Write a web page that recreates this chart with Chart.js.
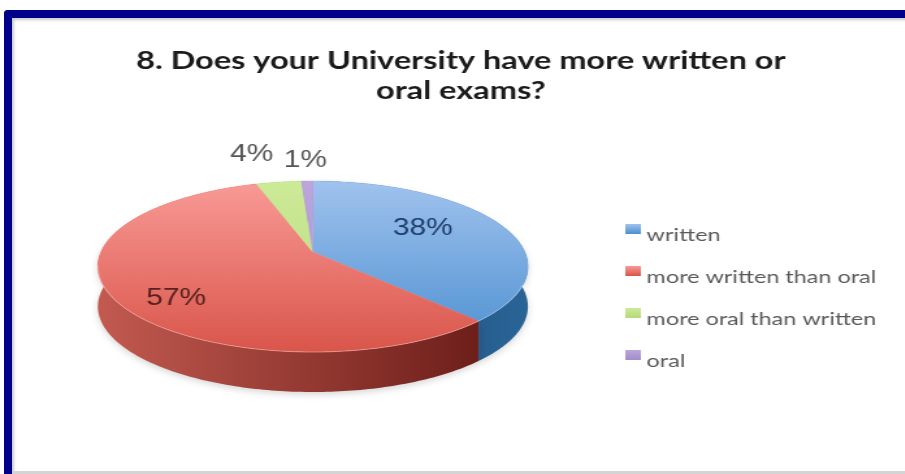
<!DOCTYPE html>
<html>
<head>
<meta charset="utf-8">
<title>Exams</title>
<script src="https://cdn.jsdelivr.net/npm/chart.js@4"></script>
<style>
  html, body { margin: 0; padding: 0; background: #fff; width: 905px; height: 474px; overflow: hidden; }
  #frame {
    position: absolute; left: 4px; top: 10px; width: 901px; height: 464px; box-sizing: border-box;
    border-top: 8px solid #00008b; border-left: 8px solid #00008b; border-top-left-radius: 4px;
    box-shadow: inset 3px 3px 3px -1px #c9c9c9;
  }
  #baseline { position: absolute; left: 13px; top: 471px; width: 892px; height: 3px; background: #d4d4d4; }
  /* the slide is shown wider than it was drawn */
  #examsChart { position: absolute; left: 0; top: 0; transform: scaleX(1.3); transform-origin: 0 0; }
</style>
</head>
<body>
<div id="frame"></div>
<div id="baseline"></div>
<canvas id="examsChart" width="697" height="474"></canvas>
<script>
const categories = ['written', 'more written than oral', 'more oral than written', 'oral'];
const shares = [38, 57, 4, 1];
const chartTitle = ['8. Does your University have more written or', 'oral exams?'];

// top face gradient stops, wall gradient stops
const topColors = [['#a0c2ee', '#4a8fd0'], ['#f99a96', '#d9554a'], ['#cdea98', '#b4da78'], ['#bca6dc', '#a48cc8']];
const wallColors = [['#1c4a78', '#2a6496'], ['#c25a50', '#6e1f1a'], ['#8aa850', '#8aa850'], ['#6f5a96', '#6f5a96']];
const labelColors = ['#1d3d6c', '#57201c', '#555555', '#555555'];

// where each percent sits: distance from the middle of the disc, and turn away from the slice centre
const labelRadius = [0.632, 0.772, 1.538, 1.385];
const labelTurn = [-8.5, -9.4, -2.8, 0];

// tilted disc with a little perspective, near edge looks bigger
const disc = { shiftX: -3, shiftY: -1, a: 83, b: 163, k: 0.17, depth: 40 };

function project(arc, r, angle) {
    const u = r * Math.cos(angle);
    const v = r * Math.sin(angle);
    const w = 1 - disc.k * v;
    return { x: arc.x + disc.shiftX + disc.b * u / w, y: arc.y + disc.shiftY + disc.a * v / w };
}

function rimPoints(arc, from, to) {
    const pts = [];
    const steps = Math.max(2, Math.ceil((to - from) * 60));
    for (let i = 0; i <= steps; i++) {
        pts.push(project(arc, 1, from + (to - from) * i / steps));
    }
    return pts;
}

const pie3d = {
    id: 'pie3d',
    beforeDatasetsDraw(chart) {
        const ctx = chart.ctx;
        const arcs = chart.getDatasetMeta(0).data;
        const top = arcs[0].y - 71;
        const bottom = arcs[0].y + 100;

        // side wall first, the top face covers whatever is behind it
        ctx.save();
        ctx.shadowColor = 'rgba(0,0,0,0.15)';
        ctx.shadowBlur = 6;
        ctx.shadowOffsetY = 3;
        arcs.forEach((arc, i) => {
            const pts = rimPoints(arc, arc.startAngle, arc.endAngle);
            const xs = pts.map(p => p.x);
            const wall = ctx.createLinearGradient(Math.min(...xs), 0, Math.max(...xs), 0);
            wall.addColorStop(0, wallColors[i][0]);
            wall.addColorStop(1, wallColors[i][1]);
            ctx.beginPath();
            pts.forEach((p, n) => n ? ctx.lineTo(p.x, p.y) : ctx.moveTo(p.x, p.y));
            pts.slice().reverse().forEach(p => ctx.lineTo(p.x, p.y + disc.depth));
            ctx.closePath();
            ctx.fillStyle = wall;
            ctx.fill();
        });
        ctx.restore();

        arcs.forEach((arc, i) => {
            const pts = rimPoints(arc, arc.startAngle, arc.endAngle);
            const face = ctx.createLinearGradient(0, top, 0, bottom);
            face.addColorStop(0, topColors[i][0]);
            face.addColorStop(1, topColors[i][1]);
            ctx.beginPath();
            const apex = project(arc, 0, 0);
            ctx.moveTo(apex.x, apex.y);
            pts.forEach(p => ctx.lineTo(p.x, p.y));
            ctx.closePath();
            ctx.fillStyle = face;
            ctx.fill();
            ctx.strokeStyle = face;
            ctx.lineWidth = 0.5;
            ctx.stroke();
        });

        // thin highlight along the near rim
        ctx.beginPath();
        rimPoints(arcs[0], Math.PI * 0.12, Math.PI * 0.95).forEach((p, n) => n ? ctx.lineTo(p.x, p.y) : ctx.moveTo(p.x, p.y));
        ctx.strokeStyle = 'rgba(255,255,255,0.3)';
        ctx.lineWidth = 1;
        ctx.stroke();

        // percent labels
        ctx.font = '23px "Liberation Sans"';
        ctx.textAlign = 'center';
        ctx.textBaseline = 'middle';
        arcs.forEach((arc, i) => {
            const mid = (arc.startAngle + arc.endAngle) / 2 + labelTurn[i] * Math.PI / 180;
            const p = project(arc, labelRadius[i], mid);
            ctx.fillStyle = labelColors[i];
            ctx.fillText(shares[i] + '%', p.x, p.y + 2);
        });
        return false;
    }
};

// legend swatch with empty space underneath, so it rides a bit above the text
function swatch(i) {
    const c = document.createElement('canvas');
    c.width = 12;
    c.height = 22;
    const x = c.getContext('2d');
    const g = x.createLinearGradient(0, 0, 0, 10);
    g.addColorStop(0, topColors[i][0]);
    g.addColorStop(1, topColors[i][1]);
    x.fillStyle = g;
    x.fillRect(0, 0, 12, 10);
    return c;
}

new Chart(document.getElementById('examsChart'), {
    type: 'pie',
    plugins: [pie3d],
    data: {
        labels: categories,
        datasets: [{ data: shares, backgroundColor: topColors.map(c => c[1]), borderWidth: 0 }]
    },
    options: {
        responsive: false,
        animation: false,
        layout: { padding: { left: 25, top: 46, bottom: 80, right: 13 } },
        plugins: {
            tooltip: { enabled: false },
            title: {
                display: true,
                text: chartTitle,
                color: '#1a1a1a',
                font: { family: 'Lato', size: 25, weight: 'bold', lineHeight: 1.2 },
                padding: { top: 0, bottom: 6 }
            },
            legend: {
                position: 'right',
                align: 'end',
                labels: {
                    color: '#595959',
                    font: { family: 'Lato', size: 18 },
                    usePointStyle: true,
                    pointStyleWidth: 2,
                    padding: 24,
                    generateLabels: () => categories.map((name, i) => ({
                        text: name,
                        pointStyle: swatch(i),
                        fontColor: '#595959',
                        lineWidth: 0,
                        hidden: false,
                        index: i
                    }))
                }
            }
        }
    }
});
</script>
</body>
</html>
